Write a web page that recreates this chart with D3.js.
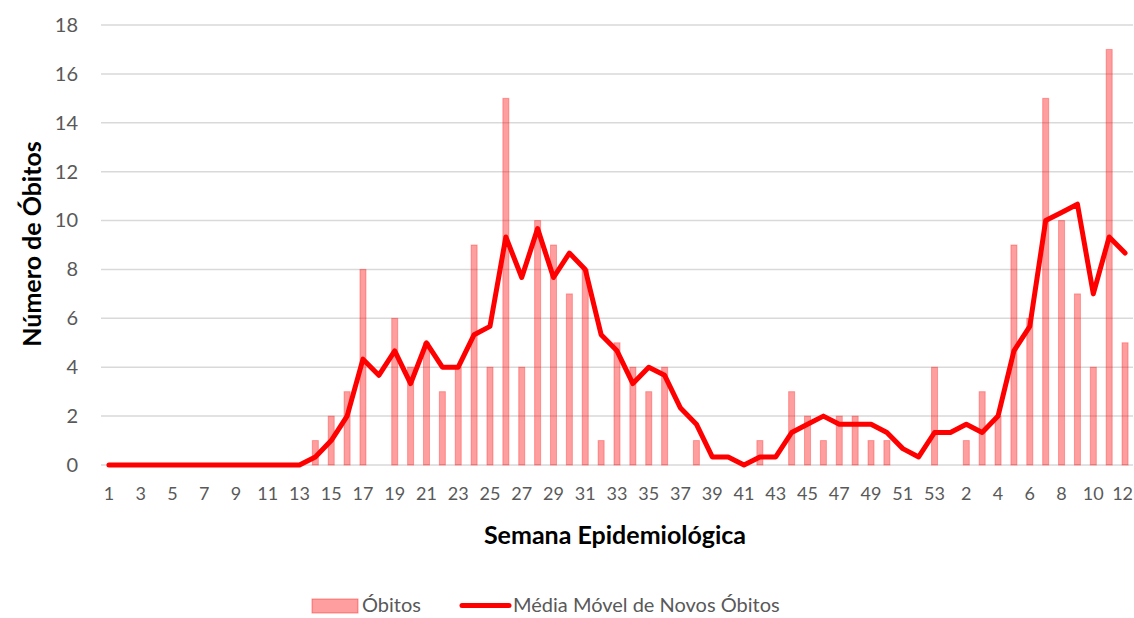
<!DOCTYPE html>
<html>
<head>
<meta charset="utf-8">
<script src="https://cdn.jsdelivr.net/npm/d3@7"></script>
<style>
  body { margin: 0; background: #fff; }
  svg { display: block; font-family: Lato, "Open Sans", sans-serif; }
</style>
</head>
<body>
<div id="chart"></div>
<script>
// Semanas epidemiológicas 1..53 (2020) e 1..12 (2021)
const weeks = [
  1, 2, 3, 4, 5, 6, 7, 8, 9, 10, 11, 12, 13, 14, 15, 16, 17, 18, 19, 20,
  21, 22, 23, 24, 25, 26, 27, 28, 29, 30, 31, 32, 33, 34, 35, 36, 37, 38, 39, 40,
  41, 42, 43, 44, 45, 46, 47, 48, 49, 50, 51, 52, 53,
  1, 2, 3, 4, 5, 6, 7, 8, 9, 10, 11, 12
];

// Óbitos por semana
const deaths = [
  0, 0, 0, 0, 0, 0, 0, 0, 0, 0, 0, 0, 0, 1, 2, 3, 8, 0, 6, 4,
  5, 3, 4, 9, 4, 15, 4, 10, 9, 7, 8, 1, 5, 4, 3, 4, 0, 1, 0, 0,
  0, 1, 0, 3, 2, 1, 2, 2, 1, 1, 0, 0, 4,
  0, 1, 3, 2, 9, 6, 15, 10, 7, 4, 17, 5
];

// Média móvel de novos óbitos
const movingAvg = [
  0, 0, 0, 0, 0, 0, 0, 0, 0, 0, 0, 0, 0, 0.33, 1, 2, 4.33, 3.67, 4.67, 3.33,
  5, 4, 4, 5.33, 5.67, 9.33, 7.67, 9.67, 7.67, 8.67, 8, 5.33, 4.67, 3.33, 4, 3.67, 2.33, 1.67, 0.33, 0.33,
  0, 0.33, 0.33, 1.33, 1.67, 2, 1.67, 1.67, 1.67, 1.33, 0.67, 0.33, 1.33,
  1.33, 1.67, 1.33, 2, 4.67, 5.67, 10, 10.33, 10.67, 7, 9.33, 8.67
];

const yTicks = [0, 2, 4, 6, 8, 10, 12, 14, 16, 18];

const width = 1134;
const height = 618;
const margin = { top: 25, right: 1, bottom: 153, left: 101 };

const svg = d3.select('#chart')
  .append('svg')
  .attr('width', width)
  .attr('height', height);

const keys = d3.range(weeks.length);

const x = d3.scaleBand()
  .domain(keys)
  .range([margin.left, width - margin.right])
  .paddingInner(0.62)
  .paddingOuter(0.31);

const y = d3.scaleLinear()
  .domain([0, 18])
  .range([height - margin.bottom, margin.top]);

const textColor = '#595959';

// gridlines
svg.append('g')
  .selectAll('line')
  .data(yTicks)
  .join('line')
  .attr('x1', margin.left)
  .attr('x2', width - margin.right)
  .attr('y1', d => y(d))
  .attr('y2', d => y(d))
  .attr('stroke', '#d9d9d9')
  .attr('stroke-width', 1.5);

// y axis labels
const yAxis = svg.append('g')
  .attr('transform', `translate(${margin.left}, 0)`)
  .call(d3.axisLeft(y).tickValues(yTicks).tickSize(0).tickPadding(23));
yAxis.select('.domain').remove();
yAxis.selectAll('text')
  .attr('font-family', 'Lato, sans-serif')
  .attr('font-size', 20)
  .attr('fill', textColor);

// x axis labels (every other week)
const lastKey = keys[keys.length - 1];
const xAxis = svg.append('g')
  .attr('transform', `translate(0, ${y(0)})`)
  .call(d3.axisBottom(x)
    .tickValues(keys.filter(i => i % 2 === 0))
    .tickFormat(i => weeks[i])
    .tickSize(0)
    .tickPadding(22));
xAxis.select('.domain').remove();
xAxis.selectAll('text')
  .attr('font-family', 'Lato, sans-serif')
  .attr('font-size', 18)
  .attr('fill', textColor);
// keep the last label inside the frame
xAxis.selectAll('.tick')
  .filter(i => i === lastKey)
  .select('text')
  .attr('text-anchor', 'end')
  .attr('dx', 8);

// bars
svg.append('g')
  .selectAll('rect')
  .data(keys.filter(i => deaths[i] > 0))
  .join('rect')
  .attr('x', i => x(i))
  .attr('y', i => y(deaths[i]))
  .attr('width', x.bandwidth())
  .attr('height', i => y(0) - y(deaths[i]))
  .attr('fill', '#ff0000')
  .attr('fill-opacity', 0.38)
  .attr('stroke', '#ff0000')
  .attr('stroke-opacity', 0.3)
  .attr('stroke-width', 1);

// moving average line
const line = d3.line()
  .x(i => x(i) + x.bandwidth() / 2)
  .y(i => y(movingAvg[i]));

svg.append('path')
  .datum(keys)
  .attr('d', line)
  .attr('fill', 'none')
  .attr('stroke', '#ff0000')
  .attr('stroke-width', 5)
  .attr('stroke-linejoin', 'round')
  .attr('stroke-linecap', 'round');

// axis titles
svg.append('text')
  .attr('transform', `translate(41, 244) rotate(-90)`)
  .attr('text-anchor', 'middle')
  .attr('font-size', 25)
  .attr('font-weight', 'bold')
  .attr('fill', '#000')
  .text('Número de Óbitos');

svg.append('text')
  .attr('x', 615)
  .attr('y', 544)
  .attr('text-anchor', 'middle')
  .attr('font-size', 25)
  .attr('font-weight', 'bold')
  .attr('fill', '#000')
  .text('Semana Epidemiológica');

// legend
const legend = svg.append('g');
legend.append('rect')
  .attr('x', 312)
  .attr('y', 599)
  .attr('width', 46)
  .attr('height', 14)
  .attr('fill', '#ff0000')
  .attr('fill-opacity', 0.38)
  .attr('stroke', '#ff0000')
  .attr('stroke-opacity', 0.4);
legend.append('text')
  .attr('x', 362)
  .attr('y', 612)
  .attr('font-size', 20)
  .attr('fill', textColor)
  .text('Óbitos');
legend.append('line')
  .attr('x1', 462)
  .attr('x2', 509)
  .attr('y1', 605.5)
  .attr('y2', 605.5)
  .attr('stroke', '#ff0000')
  .attr('stroke-width', 5)
  .attr('stroke-linecap', 'round');
legend.append('text')
  .attr('x', 513)
  .attr('y', 612)
  .attr('font-size', 20)
  .attr('fill', textColor)
  .text('Média Móvel de Novos Óbitos');
</script>
</body>
</html>
